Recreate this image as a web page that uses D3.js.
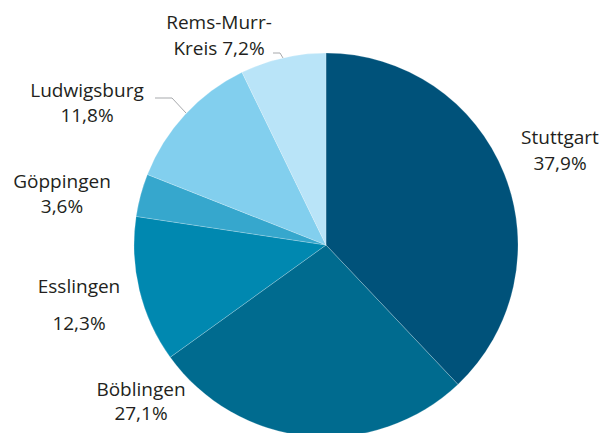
<!DOCTYPE html>
<html><head><meta charset="utf-8">
<script src="https://cdn.jsdelivr.net/npm/d3@7"></script>
<style>body{margin:0;background:#fff}svg{display:block}text{font-family:"Open Sans",sans-serif;fill:#231f20}</style>
</head><body><svg id="c" width="605" height="433"></svg>
<script>
const categories = ["Stuttgart","Böblingen","Esslingen","Göppingen","Ludwigsburg","Rems-Murr-Kreis"];
const values = [37.9, 27.1, 12.3, 3.6, 11.8, 7.2];
const colors = ["#00527a","#006b8f","#0088b0","#36a7cd","#82cfee","#b9e4f8"];
const labelLines = [["Stuttgart","37,9%"],["Böblingen","27,1%"],["Esslingen","12,3%"],["Göppingen","3,6%"],["Ludwigsburg","11,8%"],["Rems-Murr-","Kreis 7,2%"]];

const svg = d3.select("#c");
const cx = 326, cy = 245, r = 192;
const pie = d3.pie().sort(null).value(d => d)(values);
const arc = d3.arc().innerRadius(0).outerRadius(r);
const g = svg.append("g").attr("transform", `translate(${cx},${cy})`);
g.selectAll("path").data(pie).join("path")
  .attr("d", arc).attr("fill", (d,i) => colors[i])
  .attr("stroke", "#ffffff").attr("stroke-opacity", 0.35).attr("stroke-width", 0.6);

const labelPos = [
  {x:560, y:[144,170]},
  {x:141, y:[396,420]},
  {x:79, y:[293,330]},
  {x:62, y:[188,213]},
  {x:87, y:[97,122]},
  {x:219, y:[29,55]}
];
labelLines.forEach((lines,i) => {
  lines.forEach((t,j) => {
    svg.append("text").attr("x", labelPos[i].x).attr("y", labelPos[i].y[j])
      .attr("text-anchor","middle").attr("font-size",19).text(t);
  });
});
const leaders = [
  [[155,98],[172,98],[186,113]],
  [[273,53],[280,53],[283,58]]
];
leaders.forEach(pts => svg.append("path").attr("d", d3.line()(pts))
  .attr("fill","none").attr("stroke","#a7a9ac").attr("stroke-width",1));
</script></body></html>
